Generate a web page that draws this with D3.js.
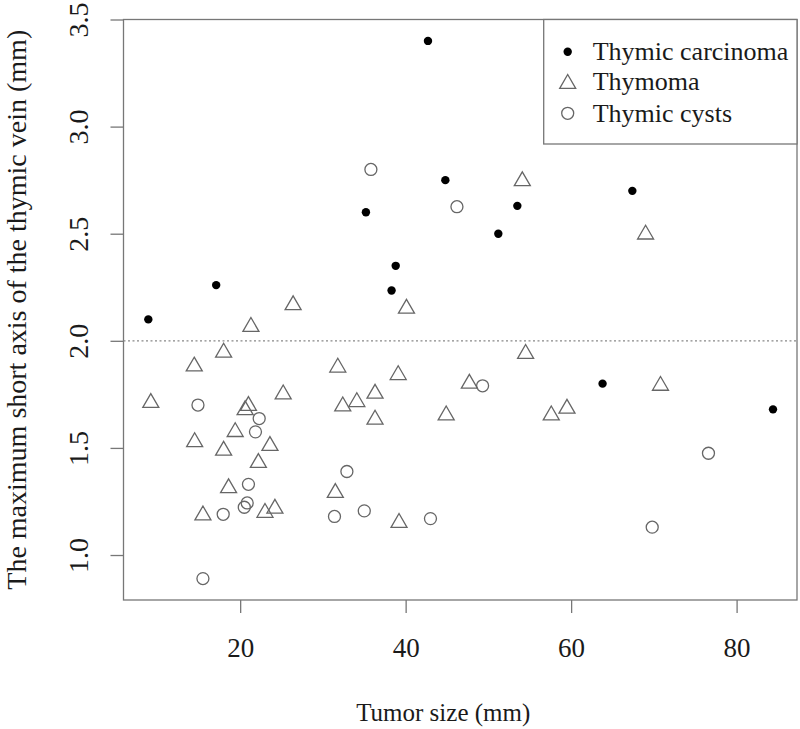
<!DOCTYPE html>
<html>
<head>
<meta charset="utf-8">
<script src="https://cdn.jsdelivr.net/npm/d3@7"></script>
<style>
  html, body { margin: 0; padding: 0; background: #fff; }
  svg { display: block; }
  text { font-family: "Liberation Serif", "Times New Roman", serif; fill: #1a1a1a; }
</style>
</head>
<body>
<svg id="chart" width="800" height="729"></svg>
<script>
// ---- Data ----
const carcinomaX = [42.7, 44.8, 35.2, 38.8, 38.3, 17.1, 8.9, 53.5, 51.2, 67.4, 63.8, 84.4];
const carcinomaY = [3.40, 2.75, 2.60, 2.35, 2.235, 2.26, 2.10, 2.63, 2.50, 2.70, 1.80, 1.68];

const thymomaX = [26.4, 40.1, 54.1, 69.0, 21.3, 18.0, 14.45, 31.8, 39.1, 25.2, 36.3, 9.2, 21.0, 20.6,
                  32.4, 34.1, 36.3, 44.9, 14.5, 19.4, 23.6, 18.0, 22.2, 18.6, 31.5, 15.5, 23.0, 24.2,
                  39.2, 54.5, 47.7, 70.8, 57.6, 59.5];
const thymomaY = [2.176, 2.16, 2.755, 2.506, 2.075, 1.955, 1.89, 1.885, 1.85, 1.76, 1.763, 1.72, 1.706, 1.686,
                  1.704, 1.724, 1.642, 1.662, 1.537, 1.584, 1.519, 1.497, 1.44, 1.322, 1.30, 1.195, 1.207, 1.226,
                  1.16, 1.949, 1.81, 1.80, 1.662, 1.693];

const cystX = [35.8, 46.2, 14.9, 22.3, 21.85, 32.9, 21.0, 20.85, 20.5, 17.95, 31.4, 35.0, 43.0, 15.5, 49.3, 76.6, 69.8];
const cystY = [2.80, 2.626, 1.70, 1.637, 1.575, 1.39, 1.33, 1.243, 1.223, 1.19, 1.18, 1.206, 1.17, 0.89, 1.79, 1.475, 1.13];

const xTicks = [20, 40, 60, 80];
const yTicks = [1.0, 1.5, 2.0, 2.5, 3.0, 3.5];
const legendLabels = ["Thymic carcinoma", "Thymoma", "Thymic cysts"];
const xTitle = "Tumor size (mm)";
const yTitle = "The maximum short axis of the thymic vein (mm)";
const threshold = 2.0;

// ---- Layout ----
const svg = d3.select("#chart");
const plot = { left: 123.5, right: 797, top: 19.5, bottom: 600 };
const axisColor = "#777";
const markColor = "#666";

const x = d3.scaleLinear().domain([5.9, 87.3]).range([plot.left, plot.right]);
const y = d3.scaleLinear().domain([0.79, 3.5]).range([plot.bottom, plot.top]);

// box
svg.append("rect")
  .attr("x", plot.left).attr("y", plot.top)
  .attr("width", plot.right - plot.left).attr("height", plot.bottom - plot.top)
  .attr("fill", "none").attr("stroke", axisColor).attr("stroke-width", 1.3);

// x axis
const xAxis = d3.axisBottom(x).tickValues(xTicks).tickSize(13).tickPadding(0).tickFormat(d3.format("d"));
const gx = svg.append("g").attr("transform", `translate(0,${plot.bottom})`).call(xAxis);
gx.select(".domain").remove();
gx.selectAll(".tick line").attr("stroke", axisColor).attr("stroke-width", 1.3);
gx.selectAll(".tick text")
  .attr("dy", null).attr("y", 57)
  .attr("font-size", 27).attr("fill", "#1a1a1a");

// y axis
const yAxis = d3.axisLeft(y).tickValues(yTicks).tickSize(13).tickFormat(d3.format(".1f"));
const gy = svg.append("g").attr("transform", `translate(${plot.left},0)`).call(yAxis);
gy.select(".domain").remove();
gy.selectAll(".tick line").attr("stroke", axisColor).attr("stroke-width", 1.3);
gy.selectAll(".tick text")
  .attr("x", null).attr("dy", null)
  .attr("transform", "translate(-36,0) rotate(-90)")
  .attr("text-anchor", "middle")
  .attr("font-size", 28).attr("fill", "#1a1a1a");

// titles
svg.append("text")
  .attr("x", (plot.left + plot.right) / 2 - 17).attr("y", 721)
  .attr("text-anchor", "middle").attr("font-size", 25)
  .text(xTitle);
svg.append("text")
  .attr("transform", `translate(25.5,${(plot.top + plot.bottom) / 2}) rotate(-90)`)
  .attr("text-anchor", "middle").attr("font-size", 28)
  .text(yTitle);

// threshold line
svg.append("line")
  .attr("x1", plot.left).attr("x2", plot.right)
  .attr("y1", y(threshold)).attr("y2", y(threshold))
  .attr("stroke", "#888").attr("stroke-width", 1.2).attr("stroke-dasharray", "2,2.5");

// marks
const triPath = "M0,-7.2L8,6.6L-8,6.6Z";
const thymoma = d3.range(thymomaX.length).map(i => ({ x: thymomaX[i], y: thymomaY[i] }));
const cysts = d3.range(cystX.length).map(i => ({ x: cystX[i], y: cystY[i] }));
const carcinoma = d3.range(carcinomaX.length).map(i => ({ x: carcinomaX[i], y: carcinomaY[i] }));

svg.append("g").selectAll("path").data(thymoma).join("path")
  .attr("d", triPath)
  .attr("transform", d => `translate(${x(d.x)},${y(d.y)})`)
  .attr("fill", "none").attr("stroke", markColor).attr("stroke-width", 1.3);

svg.append("g").selectAll("circle").data(cysts).join("circle")
  .attr("cx", d => x(d.x)).attr("cy", d => y(d.y)).attr("r", 6)
  .attr("fill", "none").attr("stroke", markColor).attr("stroke-width", 1.3);

svg.append("g").selectAll("circle").data(carcinoma).join("circle")
  .attr("cx", d => x(d.x)).attr("cy", d => y(d.y)).attr("r", 4.2)
  .attr("fill", "#000");

// legend
const lg = svg.append("g");
lg.append("rect")
  .attr("x", 543.7).attr("y", plot.top)
  .attr("width", plot.right - 543.7).attr("height", 144 - plot.top)
  .attr("fill", "#fff").attr("stroke", axisColor).attr("stroke-width", 1.3);
const rowsY = [51.7, 81.7, 113.3];
const symX = 567.7;
lg.append("circle").attr("cx", symX).attr("cy", rowsY[0]).attr("r", 4.2).attr("fill", "#000");
lg.append("path").attr("d", triPath).attr("transform", `translate(${symX},${rowsY[1]})`)
  .attr("fill", "none").attr("stroke", markColor).attr("stroke-width", 1.3);
lg.append("circle").attr("cx", symX).attr("cy", rowsY[2]).attr("r", 6)
  .attr("fill", "none").attr("stroke", markColor).attr("stroke-width", 1.3);
lg.selectAll("text.leg").data(legendLabels).join("text")
  .attr("class", "leg")
  .attr("x", 592.7).attr("y", (d, i) => rowsY[i] + 8.5)
  .attr("font-size", 26)
  .text(d => d);
</script>
</body>
</html>
